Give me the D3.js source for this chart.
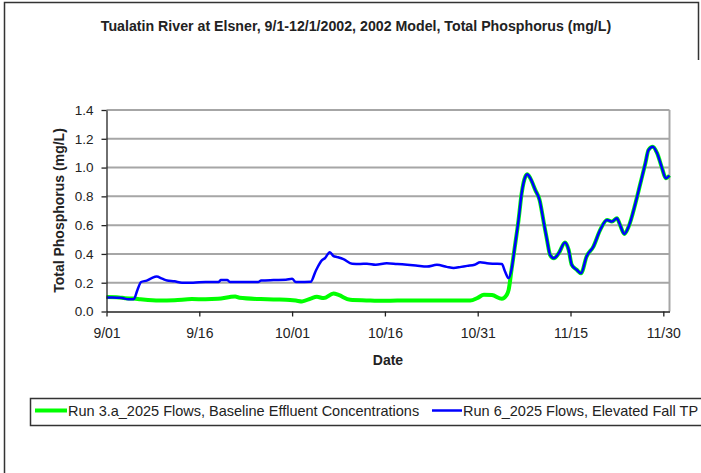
<!DOCTYPE html>
<html>
<head>
<meta charset="utf-8">
<script src="https://cdn.jsdelivr.net/npm/d3@7/dist/d3.min.js"></script>
<style>
  html, body { margin: 0; padding: 0; background: #fff; }
  svg { display: block; font-family: "Liberation Sans", Arial, sans-serif; }
</style>
</head>
<body>
<div id="app"></div>
<script>
var W = 701, H = 473;

// days after 9/1/2002 and TP (mg/L)
var run6Days = [0, 1, 2, 2.5, 3.5, 4.4, 5, 5.6, 6.5, 7.3, 8.1, 9, 9.8, 11, 12.2, 14, 16, 18.1, 18.5, 19.5, 20, 22, 24.5, 25, 27, 29, 30, 30.6, 32, 33, 33.8, 34.8, 35.3, 36.1, 36.7, 37.3, 38.3, 39.7, 41, 42.1, 43.5, 45.3, 47, 48.6, 50, 51.8, 53.4, 55, 56.1, 57.3, 58.3, 59.5, 60.4, 61.5, 62.6, 63.9, 64.4, 65];
var run6Values = [0.097, 0.097, 0.095, 0.094, 0.085, 0.085, 0.15, 0.205, 0.215, 0.232, 0.243, 0.228, 0.215, 0.21, 0.2, 0.2, 0.205, 0.205, 0.218, 0.218, 0.205, 0.205, 0.205, 0.215, 0.218, 0.22, 0.227, 0.205, 0.205, 0.206, 0.28, 0.355, 0.37, 0.412, 0.385, 0.378, 0.364, 0.332, 0.33, 0.332, 0.325, 0.336, 0.33, 0.325, 0.32, 0.312, 0.324, 0.31, 0.302, 0.31, 0.317, 0.325, 0.342, 0.335, 0.332, 0.33, 0.28, 0.232];

var run3aDays = [0, 2, 3, 4.4, 5.5, 8.5, 11, 13.8, 16, 18, 20.8, 21.5, 24.9, 27, 29, 30.6, 31.6, 33, 34, 35.1, 36.7, 37.5, 39.4, 42, 44.8, 47, 50.2, 53, 56, 58.8, 60, 61, 62.3, 63.9, 64.6, 65];
var run3aValues = [0.1, 0.098, 0.092, 0.09, 0.085, 0.076, 0.078, 0.086, 0.085, 0.088, 0.104, 0.095, 0.086, 0.083, 0.082, 0.076, 0.07, 0.09, 0.102, 0.093, 0.125, 0.115, 0.081, 0.077, 0.074, 0.077, 0.076, 0.077, 0.076, 0.076, 0.095, 0.116, 0.114, 0.088, 0.11, 0.15];

// from early November on both runs give the same curve
var sharedDays = [65.5, 66, 66.6, 67.1, 67.7, 68, 68.5, 69.3, 70, 70.7, 71.2, 71.7, 72.3, 73.1, 74.1, 74.7, 75.2, 76, 76.7, 77.6, 78.7, 79.8, 80.9, 81.7, 82.5, 83, 83.7, 84.4, 85.5, 86.3, 87.1, 87.6, 88.3, 89, 89.8, 90.4, 91];
var sharedValues = [0.3, 0.45, 0.636, 0.82, 0.937, 0.953, 0.926, 0.845, 0.775, 0.613, 0.498, 0.393, 0.37, 0.405, 0.479, 0.428, 0.324, 0.29, 0.266, 0.382, 0.451, 0.567, 0.636, 0.625, 0.648, 0.602, 0.539, 0.59, 0.752, 0.891, 1.03, 1.122, 1.145, 1.1, 0.995, 0.926, 0.945];

var xTickDates = ['2002-09-01', '2002-09-16', '2002-10-01', '2002-10-16', '2002-10-31', '2002-11-15', '2002-11-30'];
var yTicks = [0, 0.2, 0.4, 0.6, 0.8, 1.0, 1.2, 1.4];
var seriesNames = ['Run 3.a_2025 Flows, Baseline Effluent Concentrations', 'Run 6_2025 Flows, Elevated Fall TP'];

var start = Date.UTC(2002, 8, 1);
var toDate = function (d) { return new Date(start + d * 864e5); };
var parse = d3.utcParse('%Y-%m-%d');

var svg = d3.select('#app')
    .append('svg')
    .attr('width', W)
    .attr('height', H);

// outer frame of the figure
svg.append('path')
    .attr('d', 'M4.5,' + H + 'V2.5H698.5V60')
    .attr('fill', 'none')
    .attr('stroke', '#333')
    .attr('stroke-width', 1.5);

var x = d3.scaleUtc()
    .domain([toDate(0), toDate(91)])
    .range([106.5, 669.5]);
var y = d3.scaleLinear()
    .domain([0, 1.4])
    .range([311.5, 110]);

// grid
svg.append('g')
    .selectAll('line')
    .data(yTicks.slice(1))
    .enter()
    .append('line')
    .attr('x1', x.range()[0])
    .attr('x2', x.range()[1])
    .attr('y1', function (d) { return y(d) })
    .attr('y2', function (d) { return y(d) })
    .attr('stroke', '#a6a6a6')
    .attr('stroke-width', 2);

svg.append('line')
    .attr('x1', x.range()[1])
    .attr('x2', x.range()[1])
    .attr('y1', y(1.4))
    .attr('y2', y(0))
    .attr('stroke', '#a6a6a6')
    .attr('stroke-width', 2);

var line = d3.line()
    .x(function (d) { return x(toDate(d[0])) })
    .y(function (d) { return y(d[1]) })
    .curve(d3.curveMonotoneX);

var shared = d3.zip(sharedDays, sharedValues);
var run3a = d3.zip(run3aDays, run3aValues).concat(shared);
var run6 = d3.zip(run6Days, run6Values).concat(shared);

svg.append('path')
    .attr('d', line(run3a))
    .attr('fill', 'none')
    .attr('stroke', '#00ff00')
    .attr('stroke-width', 4)
    .attr('stroke-linejoin', 'round');

svg.append('path')
    .attr('d', line(run6))
    .attr('fill', 'none')
    .attr('stroke', '#0000ff')
    .attr('stroke-width', 2.5)
    .attr('stroke-linejoin', 'round');

// axes
var yAxis = svg.append('g')
    .attr('transform', 'translate(' + x.range()[0] + ',0)')
    .call(d3.axisLeft(y).tickValues(yTicks).tickFormat(d3.format('.1f')).tickSize(5).tickPadding(8).tickSizeOuter(0));
var xAxis = svg.append('g')
    .attr('transform', 'translate(0,' + y(0) + ')')
    .call(d3.axisBottom(x).tickValues(xTickDates.map(parse)).tickFormat(d3.utcFormat('%-m/%d')).tickSize(5).tickPadding(12).tickSizeOuter(0));

svg.selectAll('.domain, .tick line')
    .attr('stroke', '#222')
    .attr('stroke-width', 1.3);
yAxis.selectAll('text').attr('font-size', 13.5).attr('fill', '#222');
xAxis.selectAll('text').attr('font-size', 14).attr('fill', '#222');
svg.selectAll('.tick text').attr('font-family', null);

// titles
svg.append('text')
    .attr('x', 356)
    .attr('y', 31)
    .attr('text-anchor', 'middle')
    .attr('font-size', 14.2)
    .attr('font-weight', 'bold')
    .attr('fill', '#222')
    .text('Tualatin River at Elsner, 9/1-12/1/2002, 2002 Model, Total Phosphorus (mg/L)');

svg.append('text')
    .attr('transform', 'translate(64,210.5) rotate(-90)')
    .attr('text-anchor', 'middle')
    .attr('font-size', 14)
    .attr('font-weight', 'bold')
    .attr('fill', '#222')
    .text('Total Phosphorus (mg/L)');

svg.append('text')
    .attr('x', 388)
    .attr('y', 365)
    .attr('text-anchor', 'middle')
    .attr('font-size', 14)
    .attr('font-weight', 'bold')
    .attr('fill', '#222')
    .text('Date');

// legend
svg.append('rect')
    .attr('x', 30.5)
    .attr('y', 398.5)
    .attr('width', 700)
    .attr('height', 27)
    .attr('fill', 'none')
    .attr('stroke', '#333')
    .attr('stroke-width', 1.5);

var legend = [
    { name: seriesNames[0], color: '#00ff00', width: 4, x0: 35, x1: 67 },
    { name: seriesNames[1], color: '#0000ff', width: 2.5, x0: 432, x1: 462 }
];
legend.forEach(function (e) {
    svg.append('line')
        .attr('x1', e.x0)
        .attr('x2', e.x1)
        .attr('y1', 410.5)
        .attr('y2', 410.5)
        .attr('stroke', e.color)
        .attr('stroke-width', e.width);
    svg.append('text')
        .attr('x', e.x1 + 1)
        .attr('y', 416)
        .attr('font-size', 14.5)
        .attr('fill', '#222')
        .text(e.name);
});
</script>
</body>
</html>
